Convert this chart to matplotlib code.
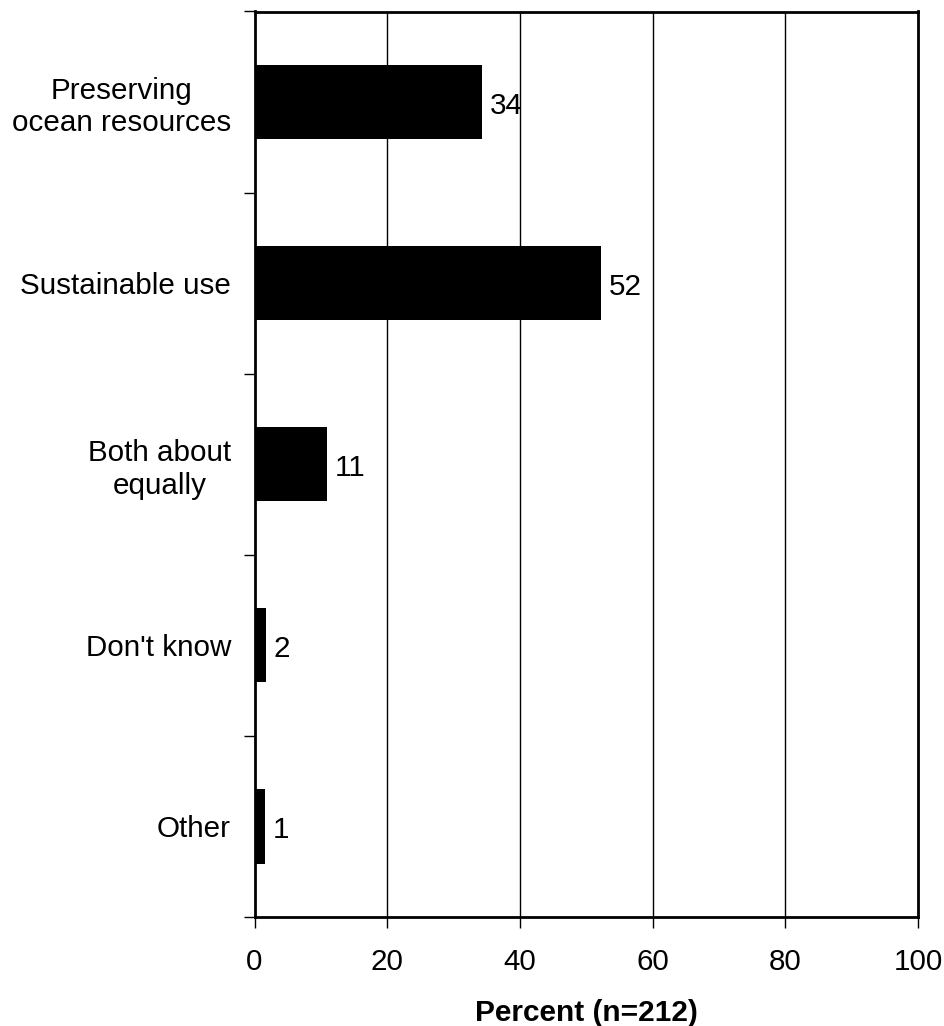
import matplotlib
matplotlib.use("Agg")
import matplotlib.pyplot as plt
import numpy as np

plt.rcParams['font.family'] = ['Liberation Sans', 'DejaVu Sans']

categories = ["Preserving\nocean resources", "Sustainable use", "Both about\nequally", "Don't know", "Other"]
values = [34.3, 52.2, 10.9, 1.7, 1.6]
value_labels = ["34", "52", "11", "2", "1"]
xticks = [0, 20, 40, 60, 80, 100]
xlabel = "Percent (n=212)"

fig = plt.figure(figsize=(9.45, 10.26), dpi=100)
ax = fig.add_axes([254.5/945, 1-917/1026, (918-254.5)/945, (917-11.5)/1026])

y = np.arange(len(categories))
ax.barh(y, values, height=0.41, color='black', zorder=3)
for yi, v, lab in zip(y, values, value_labels):
    ax.text(v + 1.2, yi + 0.02, lab, va='center', ha='left', fontsize=21.3)

ax.set_xlim(0, 100)
ax.set_ylim(len(categories) - 0.5, -0.5)
ax.set_xticks(xticks)
ax.set_xticklabels([str(t) for t in xticks], fontsize=21.3)
ax.tick_params(axis='x', length=8, width=1, pad=14, direction='out')
ax.set_yticks(y)
ax.set_yticklabels(categories, fontsize=21.3, multialignment='center')
ax.tick_params(axis='y', which='major', length=0, pad=17)
ax.set_yticks(np.arange(-0.5, len(categories)), minor=True)
ax.tick_params(axis='y', which='minor', length=8, width=1, direction='out')
for lab in ax.get_yticklabels():
    lab.set_multialignment('center')

for t in xticks[1:-1]:
    ax.axvline(t, color='black', linewidth=1, zorder=1)
for s in ax.spines.values():
    s.set_linewidth(2)

ax.set_xlabel(xlabel, fontsize=21.5, fontweight='bold', labelpad=17)

fig.savefig("out.png", dpi=100)
